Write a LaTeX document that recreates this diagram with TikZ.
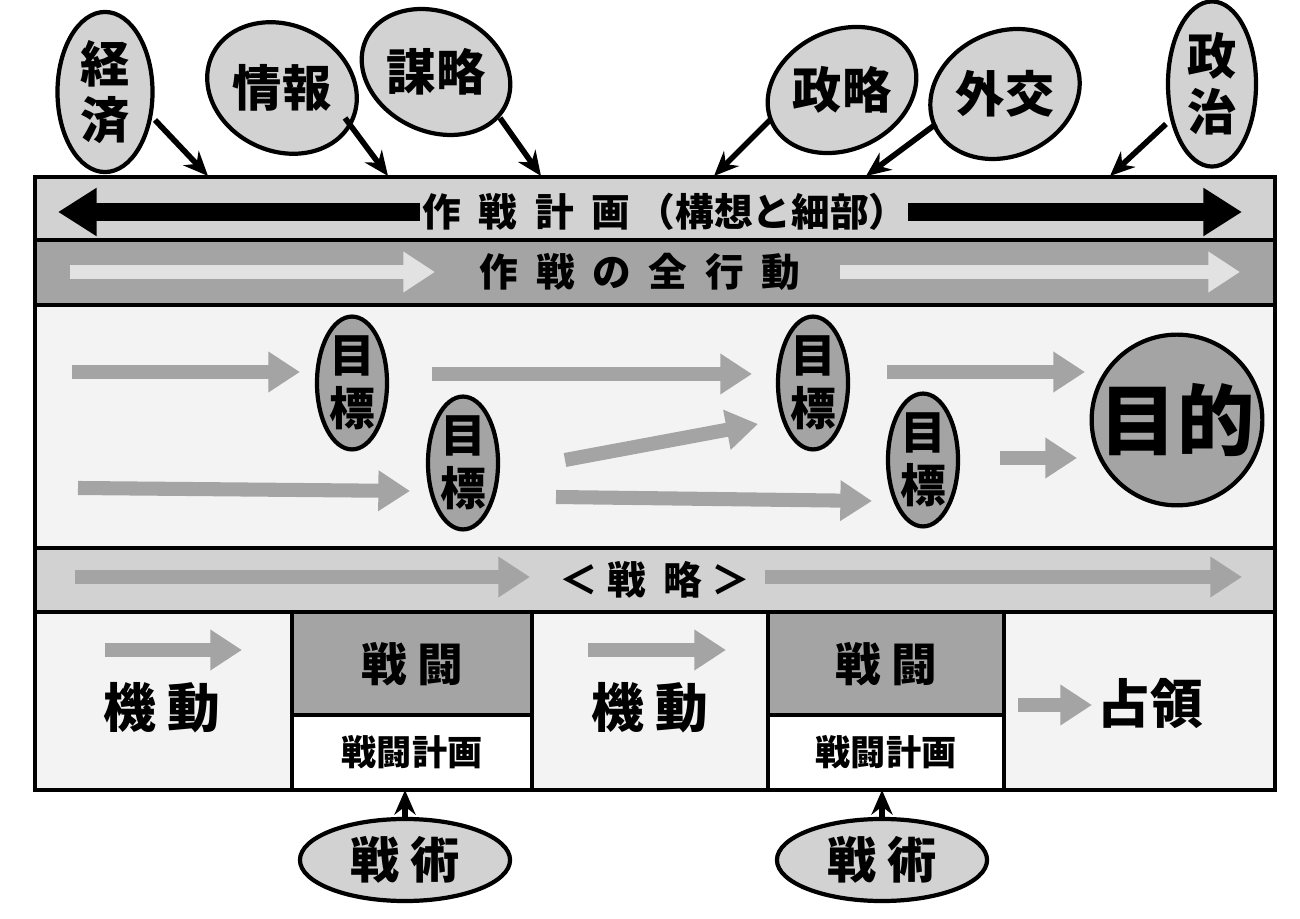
\documentclass[tikz,border=0pt]{standalone}
\usepackage{fontspec}
\setmainfont{Noto Sans CJK JP}
\usetikzlibrary{shapes.geometric, arrows.meta}
\definecolor{bandgray}{HTML}{D2D2D2}
\definecolor{darkgray}{HTML}{A4A4A4}
\definecolor{palegray}{HTML}{F3F3F3}
\definecolor{lightarrow}{HTML}{E2E2E2}
\tikzset{
x=0.01cm, y=-0.01cm, % pixel grid of the sketch
band/.style={draw, line width=1.2pt},
bubble/.style={ellipse, draw, line width=1.2pt, fill=bandgray, inner sep=0pt, font=\bfseries\fontsize{14}{16}\selectfont},
goal/.style={ellipse, draw, line width=1.2pt, fill=darkgray, minimum width=0.70cm, minimum height=1.22cm, inner sep=0pt, align=center, font=\bfseries\fontsize{13}{15}\selectfont},
flow/.style={line width=4pt, -{Triangle[length=9pt, width=11pt]}},
feed/.style={line width=1.6pt, -{Stealth[length=7pt, width=6pt]}},
}
\begin{document}
\begin{tikzpicture}
    \useasboundingbox (0,0) rectangle (1300,919);
    % bands
    \draw[band, fill=bandgray] (35,177) rectangle (1275,240);
    \draw[band, fill=darkgray] (35,240) rectangle (1275,305);
    \draw[band, fill=palegray] (35,305) rectangle (1275,548);
    \draw[band, fill=bandgray] (35,548) rectangle (1275,612);
    \node[font=\bfseries\fontsize{11}{13}\selectfont] (plan) at (665,212) {作\ \ 戦\ \ 計\ \ 画\,（構想と細部）};
    \draw[line width=5pt, -{Triangle[length=11pt, width=13pt]}] (420,212) -- (58,212);
    \draw[line width=5pt, -{Triangle[length=11pt, width=13pt]}] (908,212) -- (1242,212);
    \node[font=\bfseries\fontsize{11}{13}\selectfont] (action) at (640,272) {作\ \ 戦\ \ の\ \ 全\ \ 行\ \ 動};
    \draw[flow, draw=lightarrow] (70,272) -- (435,272);
    \draw[flow, draw=lightarrow] (840,272) -- (1240,272);
    \node[font=\bfseries\fontsize{11}{13}\selectfont] (strat) at (655,580) {＜\ 戦\ \ 略\ ＞};
    \draw[flow, draw=darkgray] (75,577) -- (530,577);
    \draw[flow, draw=darkgray] (765,577) -- (1242,577);
    % goals
    \node[goal] (g1) at (352,383) {目\\標};
    \node[goal] (g2) at (463,463) {目\\標};
    \node[goal] (g3) at (813,383) {目\\標};
    \node[goal] (g4) at (923,460) {目\\標};
    \node[circle, draw, line width=1.2pt, fill=darkgray, minimum size=1.68cm, inner sep=0pt, font=\bfseries\fontsize{22}{24}\selectfont] (aim) at (1177,420) {目的};
    \draw[flow, draw=darkgray] (72,372) -- (300,372);
    \draw[flow, draw=darkgray] (432,374) -- (752,374);
    \draw[flow, draw=darkgray] (887,372) -- (1085,372);
    \draw[flow, draw=darkgray] (78,488) -- (410,491);
    \draw[flow, draw=darkgray] (565,460) -- (758,424);
    \draw[flow, draw=darkgray] (556,497) -- (872,501);
    \draw[flow, draw=darkgray] (1000,458) -- (1077,458);
    % bottom row
    \draw[band, fill=palegray] (35,612) rectangle (1275,790);
    \draw[band, fill=darkgray] (292,612) rectangle (532,715);
    \draw[band, fill=white] (292,715) rectangle (532,790);
    \draw[band, fill=darkgray] (768,612) rectangle (1004,715);
    \draw[band, fill=white] (768,715) rectangle (1004,790);
    \node[font=\bfseries\fontsize{15}{17}\selectfont] (move1) at (162,708) {機\ 動};
    \node[font=\bfseries\fontsize{15}{17}\selectfont] (move2) at (650,708) {機\ 動};
    \node[font=\bfseries\fontsize{13}{15}\selectfont] (fight1) at (412,664) {戦\ 闘};
    \node[font=\bfseries\fontsize{13}{15}\selectfont] (fight2) at (886,664) {戦\ 闘};
    \node[font=\bfseries\fontsize{10}{12}\selectfont] (plan1) at (412,752) {戦闘計画};
    \node[font=\bfseries\fontsize{10}{12}\selectfont] (plan2) at (886,752) {戦闘計画};
    \node[font=\bfseries\fontsize{15}{17}\selectfont] (occupy) at (1150,704) {占領};
    \draw[flow, draw=darkgray] (105,650) -- (242,650);
    \draw[flow, draw=darkgray] (588,650) -- (726,650);
    \draw[flow, draw=darkgray] (1018,705) -- (1092,705);
    % tactics
    \node[bubble, minimum width=2.10cm, minimum height=0.82cm] (tac1) at (405,860) {戦\ 術};
    \node[bubble, minimum width=2.10cm, minimum height=0.82cm] (tac2) at (882,860) {戦\ 術};
    \coordinate (t1) at (405,790);
    \coordinate (t2) at (882,790);
    \draw[feed] (tac1) -- (t1);
    \draw[feed] (tac2) -- (t2);
    % influences
    \node[bubble, minimum width=0.95cm, minimum height=1.60cm, align=center] (econ) at (105,92) {経\\済};
    \node[bubble, minimum width=1.22cm, minimum height=1.26cm, rotate=-25] (intel) at (282,88) {\rotatebox{25}{情報}};
    \node[bubble, minimum width=1.26cm, minimum height=1.14cm, rotate=-25] (plot) at (436,72) {\rotatebox{25}{謀略}};
    \node[bubble, minimum width=1.48cm, minimum height=1.16cm, rotate=25] (policy) at (842,90) {\rotatebox{-25}{政略}};
    \node[bubble, minimum width=1.40cm, minimum height=1.24cm, rotate=25] (diplo) at (1005,94) {\rotatebox{-25}{外交}};
    \node[bubble, minimum width=0.88cm, minimum height=1.65cm, align=center] (polit) at (1212,84) {政\\治};
    \coordinate (e1) at (208,176);
    \coordinate (e2) at (388,176);
    \coordinate (e3) at (541,176);
    \coordinate (e4) at (714,176);
    \coordinate (e5) at (866,176);
    \coordinate (e6) at (1110,176);
    \draw[feed] (155,120) -- (e1);
    \draw[feed] (345,118) -- (e2);
    \draw[feed] (500,118) -- (e3);
    \draw[feed] (770,120) -- (e4);
    \draw[feed] (936,124) -- (e5);
    \draw[feed] (1166,124) -- (e6);
\end{tikzpicture}
\end{document}
